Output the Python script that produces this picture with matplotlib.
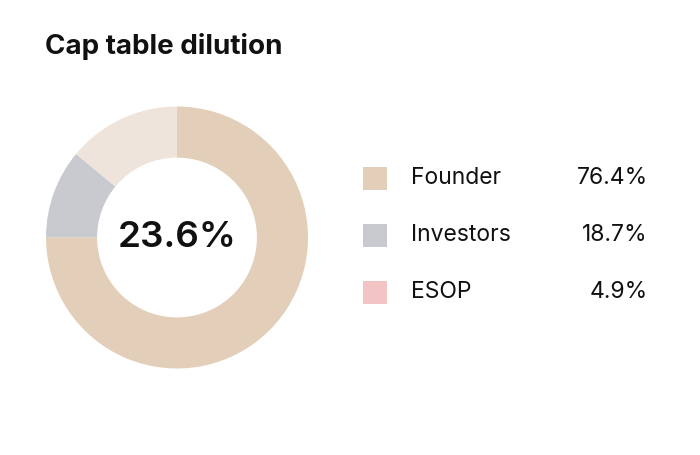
import matplotlib
matplotlib.use("Agg")
import matplotlib.pyplot as plt
from matplotlib.patches import Rectangle

plt.rcParams['font.family'] = ['Inter', 'DejaVu Sans']

# data
labels = ["Founder", "Investors", "ESOP"]
shares = [76.4, 18.7, 4.9]
legend_colors = ["#e3cfb9", "#c8cacf", "#f2c4c4"]
# ring as drawn in the picture (mid-transition)
ring_values = [75.0, 11.0, 14.0]
ring_colors = ["#e3cfb9", "#c8cacf", "#efe4db"]
center_label = "23.6%"
title = "Cap table dilution"

W, H = 700, 455
fig = plt.figure(figsize=(W / 100, H / 100), dpi=100)
fig.patch.set_facecolor("white")

# donut
cx, cy, r = 177, 237.5, 131
ax = fig.add_axes([(cx - r) / W, (H - cy - r) / H, 2 * r / W, 2 * r / H])
ax.pie(ring_values, colors=ring_colors, startangle=90, counterclock=False,
       radius=1, wedgeprops=dict(width=0.39, linewidth=0))
ax.set_xlim(-1, 1); ax.set_ylim(-1, 1); ax.set_aspect('auto')
ax.axis('off')
ax.text(0, 0, center_label, ha='center', va='center', fontsize=26.5,
        fontweight='semibold', color='#111111')

# overlay in pixel coords for title + legend
ov = fig.add_axes([0, 0, 1, 1])
ov.set_xlim(0, W); ov.set_ylim(H, 0); ov.axis('off')
ov.text(45, 47, title, ha='left', va='center', fontsize=20,
        fontweight='bold', color='#111111')

for i, (lab, val, col) in enumerate(zip(labels, shares, legend_colors)):
    y = 178 + i * 57
    ov.add_patch(Rectangle((363, y - 11), 24, 23, color=col, lw=0))
    ov.text(411, y, lab, ha='left', va='center', fontsize=16.5, color='#111111')
    ov.text(648, y, f"{val:.1f}%", ha='right', va='center', fontsize=16.5,
            color='#111111')

fig.savefig("out.png", dpi=100, facecolor="white")
